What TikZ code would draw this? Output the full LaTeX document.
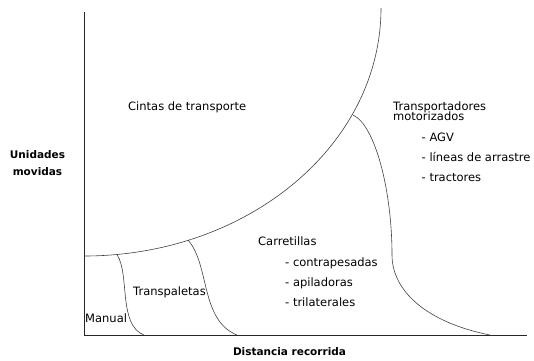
\documentclass[tikz,border=0pt]{standalone}
\usepackage{fontspec}
\setmainfont{DejaVu Sans}
\usepackage{tikz}

\begin{document}
\begin{tikzpicture}[x=1pt,y=-1pt,
  lbl/.style={anchor=base west,inner sep=0pt,font=\fontsize{11.5}{12}\selectfont},
  axis/.style={line width=0.9pt,black!85},
  zone/.style={line width=0.6pt,black!75}]
\useasboundingbox (0,0) rectangle (534,360);
% ejes
\coordinate (O) at (84,335);
\coordinate (T) at (84,12);
\coordinate (R) at (527,335);
\draw[axis] (T) -- (O) -- (R);
% limites de zonas
\coordinate (A) at (84,256);
\coordinate (B) at (381,8);
\coordinate (C) at (117,254.5);
\coordinate (D) at (188,240);
\coordinate (E) at (353,115);
\coordinate (F) at (392,255);
\draw[zone] (A) .. controls (248,256) and (381,145) .. (B);
\draw[zone] (C) .. controls (130,275) and (118,325) .. (144,335);
\draw[zone] (D) .. controls (210,265) and (200,320) .. (237,335);
\draw[zone] (E) .. controls (375,125) and (392,190) .. (F);
\draw[zone] (F) .. controls (392,290) and (425,322) .. (490,335);
% textos
\node[lbl] (cintas) at (128,110) {Cintas de transporte};
\node[lbl] (transp) at (393,110.7) {Transportadores};
\node[lbl] (motor) at (393,120.7) {motorizados};
\node[lbl] (agv) at (421.5,141.7) {- AGV};
\node[lbl] (lineas) at (421.5,161.7) {- líneas de arrastre};
\node[lbl] (tract) at (421.5,181.5) {- tractores};
\node[lbl] (carret) at (258,245.7) {Carretillas};
\node[lbl] (contra) at (285,266) {- contrapesadas};
\node[lbl] (apil) at (285,286) {- apiladoras};
\node[lbl] (tril) at (285,306) {- trilaterales};
\node[lbl] (paleta) at (133,295) {Transpaletas};
\node[lbl] (manual) at (85,322.7) {Manual};
\node[lbl,anchor=base,font=\fontsize{10.5}{12}\selectfont\bfseries] (dist) at (289.5,355) {Distancia recorrida};
\node[lbl,anchor=base,font=\fontsize{10.5}{12}\selectfont\bfseries] (unid) at (37.5,158.3) {Unidades};
\node[lbl,anchor=base,font=\fontsize{10.5}{12}\selectfont\bfseries] (movid) at (37.5,175) {movidas};
\end{tikzpicture}
\end{document}
